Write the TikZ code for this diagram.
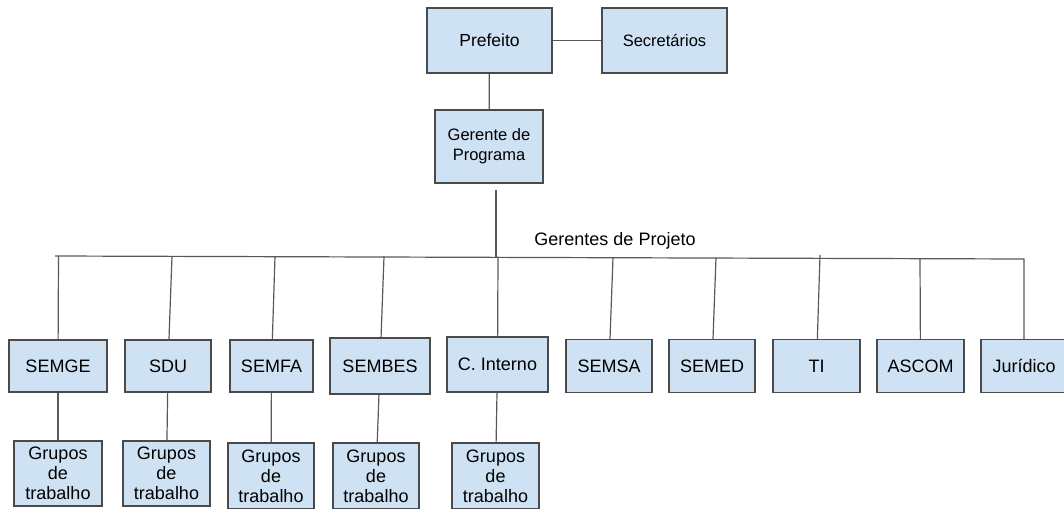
\documentclass[tikz,border=0pt]{standalone}
\usepackage{xcolor}
\usepackage{fontspec}
\setmainfont{Liberation Sans}
\usepackage{tikz}
\usetikzlibrary{arrows.meta}

\definecolor{boxfill}{HTML}{CFE2F3}
\definecolor{boxline}{HTML}{4A4A4A}
\definecolor{linkline}{HTML}{595959}

\begin{document}
\begin{tikzpicture}[x=1pt, y=-1pt]
	\useasboundingbox (0,0) rectangle (1064,508);
	\begin{scope}[every node/.style = {rectangle, draw=boxline, fill=boxfill, line width=1.2pt,
			inner sep=0pt, align=center, font=\fontsize{18}{20}\selectfont}]
		\node [minimum width=125, minimum height=65, font=\fontsize{17.5}{20}\selectfont] (P) at (489.5,40.5) {Prefeito};
		\node [minimum width=125, minimum height=65, font=\fontsize{16.5}{20}\selectfont] (S) at (664.5,40.5) {Secretários};
		\node [minimum width=108, minimum height=73, font=\fontsize{16.5}{20}\selectfont] (GP) at (489,146.5) {Gerente de\\Programa};
		% secretarias
		\node [minimum width=98, minimum height=52] (SG) at (58,366) {SEMGE};
		\node [minimum width=86, minimum height=52] (SD) at (168,366) {SDU};
		\node [minimum width=83, minimum height=52] (SF) at (271.5,366) {SEMFA};
		\node [minimum width=100, minimum height=56] (SB) at (380,366) {SEMBES};
		\node [minimum width=101, minimum height=55] (CI) at (497.5,364.5) {C. Interno};
		\node [minimum width=86, minimum height=53] (SS) at (609,366) {SEMSA};
		\node [minimum width=86, minimum height=53] (SM) at (712,366) {SEMED};
		\node [minimum width=87, minimum height=53] (TI) at (816.5,366) {TI};
		\node [minimum width=87, minimum height=53] (AS) at (920.5,366) {ASCOM};
		\node [minimum width=86, minimum height=53] (JU) at (1024,366) {Jurídico};
		% grupos de trabalho
		\begin{scope}[font=\fontsize{16}{20}\selectfont]
			\node [minimum width=88, minimum height=65] (GSG) at (58,473.5) {Grupos\\de\\trabalho};
			\node [minimum width=87, minimum height=65] (GSD) at (166.5,473.5) {Grupos\\de\\trabalho};
			\node [minimum width=86, minimum height=66] (GSF) at (271,476) {Grupos\\de\\trabalho};
			\node [minimum width=86, minimum height=66] (GSB) at (376,476) {Grupos\\de\\trabalho};
			\node [minimum width=87, minimum height=66] (GCI) at (495.5,476) {Grupos\\de\\trabalho};
		\end{scope}
	\end{scope}
	\node [font=\fontsize{18}{20}\selectfont] (GPJ) at (615,241) {Gerentes de Projeto};
	\coordinate (top) at (496,190);
	\coordinate (busL) at (55,256);
	\coordinate (busM) at (496,256.5);
	\coordinate (busR) at (1024,259);
	\coordinate (bSG) at (58.5,256);
	\coordinate (bSD) at (172,256);
	\coordinate (bSF) at (275,256.5);
	\coordinate (bSB) at (384,256.5);
	\coordinate (bCI) at (498,256.5);
	\coordinate (bSS) at (613,257.5);
	\coordinate (bSM) at (716,257.5);
	\coordinate (bTI) at (820,255);
	\coordinate (bAS) at (920,258.5);
	\begin{scope}[every edge/.style={draw=linkline, line width=1.2pt}]
		\path [-] (P) edge (S);
		\path [-] (P) edge (GP);
		\path [-] (top) edge (busM);
		\draw [draw=linkline, line width=1.2pt] (busL) -- (busR) -- (JU.north);
		\path [-] (bSG) edge (SG);
		\path [-] (bSD) edge (SD);
		\path [-] (bSF) edge (SF);
		\path [-] (bSB) edge (SB);
		\path [-] (bCI) edge (CI);
		\path [-] (bSS) edge (SS);
		\path [-] (bSM) edge (SM);
		\path [-] (bTI) edge (TI);
		\path [-] (bAS) edge (AS);
		\path [-] (SG) edge (GSG);
		\path [-] (SD) edge (GSD);
		\path [-] (SF) edge (GSF);
		\path [-] (SB) edge (GSB);
		\path [-] (CI) edge (GCI);
	\end{scope}
\end{tikzpicture}
\end{document}
